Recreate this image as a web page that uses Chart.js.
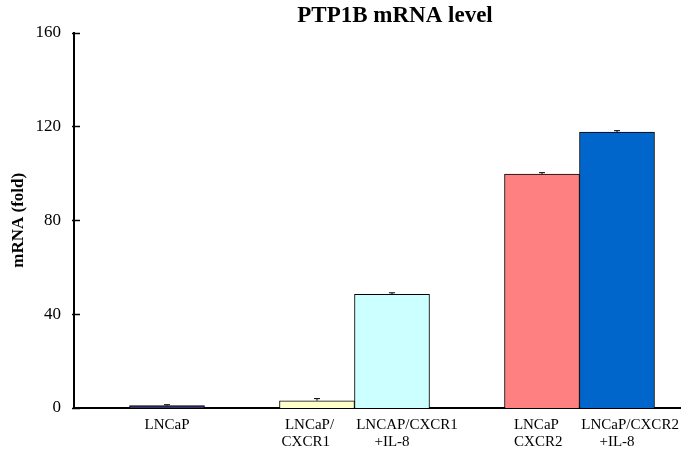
<!DOCTYPE html>
<html>
<head>
<meta charset="utf-8">
<script src="https://cdn.jsdelivr.net/npm/chart.js@4"></script>
<style>
html,body{margin:0;padding:0;background:#fff;}
canvas{display:block;}
</style>
</head>
<body>
<canvas id="c" width="681" height="455"></canvas>
<script>
// ---- data ----
const categories = [
  ["LNCaP"],
  ["LNCaP/    ", "CXCR1      "],
  ["        LNCAP/CXCR1", "+IL-8"],
  ["LNCaP   ", "CXCR2  "],
  ["       LNCaP/CXCR2", "+IL-8"]
];
const positions = [1, 3, 4, 6, 7];
const values = [1, 3.1, 48.5, 99.7, 117.6];
const errors = [0.4, 0.9, 0.6, 0.6, 0.6];
const barColors = ["#333366", "#ffffcc", "#ccffff", "#ff8080", "#0066cc"];
const yTicks = [0, 40, 80, 120, 160];
const titleText = "PTP1B mRNA level";
const yTitle = "mRNA (fold)";

const serif = "'Liberation Serif', 'Times New Roman', serif";

const errorBars = {
  id: 'errorBars',
  afterDatasetsDraw(chart) {
    const {ctx, scales: {x, y}} = chart;
    ctx.save();
    ctx.strokeStyle = '#000';
    ctx.lineWidth = 1;
    values.forEach((v, i) => {
      const px = x.getPixelForValue(positions[i]);
      const y0 = y.getPixelForValue(v);
      const y1 = y.getPixelForValue(v + errors[i]);
      ctx.beginPath();
      ctx.moveTo(px, y0); ctx.lineTo(px, y1);
      ctx.moveTo(px - 3, y1); ctx.lineTo(px + 3, y1);
      ctx.stroke();
    });
    ctx.restore();
  }
};

const innerTicks = {
  id: 'innerTicks',
  afterDraw(chart) {
    const {ctx, scales: {y}, chartArea} = chart;
    ctx.save();
    ctx.strokeStyle = '#000';
    ctx.lineWidth = 1.5;
    yTicks.forEach(t => {
      const py = Math.round(y.getPixelForValue(t)) + 0.5;
      ctx.beginPath();
      ctx.moveTo(chartArea.left - 2, py);
      ctx.lineTo(chartArea.left + 6, py);
      ctx.stroke();
    });
    ctx.restore();
  }
};

const shiftTitle = {
  id: 'shiftTitle',
  afterLayout(chart) {
    const t = chart.titleBlock;
    if (t) { t.left += 55; t.right += 55; }
  }
};

new Chart(document.getElementById('c'), {
  type: 'bar',
  data: {
    datasets: [{
      data: positions.map((p, i) => ({x: p, y: values[i]})),
      backgroundColor: barColors,
      borderColor: '#000',
      borderWidth: 1,
      barPercentage: 1,
      categoryPercentage: 1
    }]
  },
  options: {
    responsive: false,
    animation: false,
    layout: {padding: {left: 0, right: 1, top: 0, bottom: 0}},
    plugins: {
      legend: {display: false},
      tooltip: {enabled: false},
      title: {
        display: true,
        text: titleText,
        color: '#000',
        font: {family: serif, size: 23, weight: 'bold'},
        padding: {top: 2, bottom: 3}
      }
    },
    scales: {
      x: {
        type: 'linear',
        offset: false,
        min: -0.24,
        max: 7.84,
        afterBuildTicks(scale) { scale.ticks = positions.map(v => ({value: v})); },
        afterFit(scale) { scale.height = 47; scale.paddingLeft = 0; scale.paddingRight = 0; },
        grid: {display: false, drawTicks: false, offset: false},
        border: {display: true, color: '#000', width: 2},
        ticks: {
          autoSkip: false,
          maxRotation: 0,
          padding: 8,
          color: '#000',
          font: {family: serif, size: 15, lineHeight: 1.15},
          callback(value) {
            const i = positions.indexOf(value);
            return i >= 0 ? categories[i] : '';
          }
        }
      },
      y: {
        min: 0,
        max: 160,
        afterBuildTicks(scale) { scale.ticks = yTicks.map(v => ({value: v})); },
        afterFit(scale) { scale.width = 74; },
        grid: {display: false, drawTicks: false},
        border: {display: true, color: '#000', width: 2},
        ticks: {
          padding: 13,
          color: '#000',
          font: {family: serif, size: 17}
        },
        title: {
          display: true,
          text: yTitle,
          color: '#000',
          font: {family: serif, size: 17, weight: 'bold'},
          padding: {top: 8, bottom: 0}
        }
      }
    }
  },
  plugins: [errorBars, innerTicks, shiftTitle]
});
</script>
</body>
</html>
